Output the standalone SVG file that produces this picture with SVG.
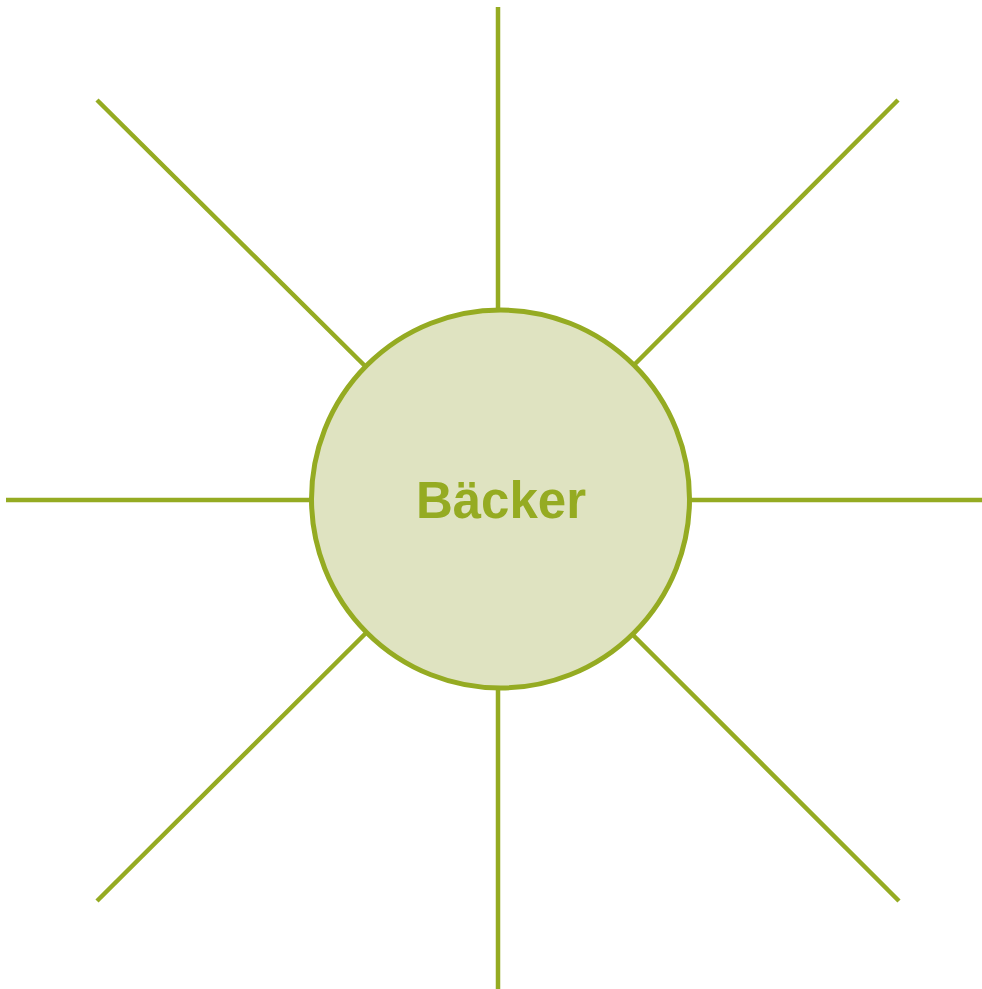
<svg xmlns="http://www.w3.org/2000/svg" width="982" height="989" viewBox="0 0 982 989">
<style>
.ray{stroke:#95ab22;stroke-width:4.5;fill:none}
.hub{fill:#dfe3c1;stroke:#95ab22;stroke-width:5}
.lbl{font-family:"Liberation Sans",Arial,sans-serif;font-weight:bold;font-size:51px;fill:#95ab22}
</style>
<rect width="982" height="989" fill="#ffffff"/>
<g id="connectors">
<line class="ray" x1="498" y1="7" x2="498" y2="311"/>
<line class="ray" x1="498" y1="687" x2="498" y2="989"/>
<line class="ray" x1="6" y1="500" x2="313" y2="500"/>
<line class="ray" x1="687" y1="500" x2="982" y2="500"/>
<line class="ray" x1="97" y1="100" x2="366" y2="367"/>
<line class="ray" x1="898" y1="100" x2="634" y2="365"/>
<line class="ray" x1="97" y1="901" x2="366" y2="633"/>
<line class="ray" x1="899" y1="901" x2="633" y2="635"/>
</g>
<g id="hub">
<circle class="hub" cx="500.5" cy="499" r="189"/>
<text class="lbl" x="501" y="518" text-anchor="middle">Bäcker</text>
</g>
</svg>
